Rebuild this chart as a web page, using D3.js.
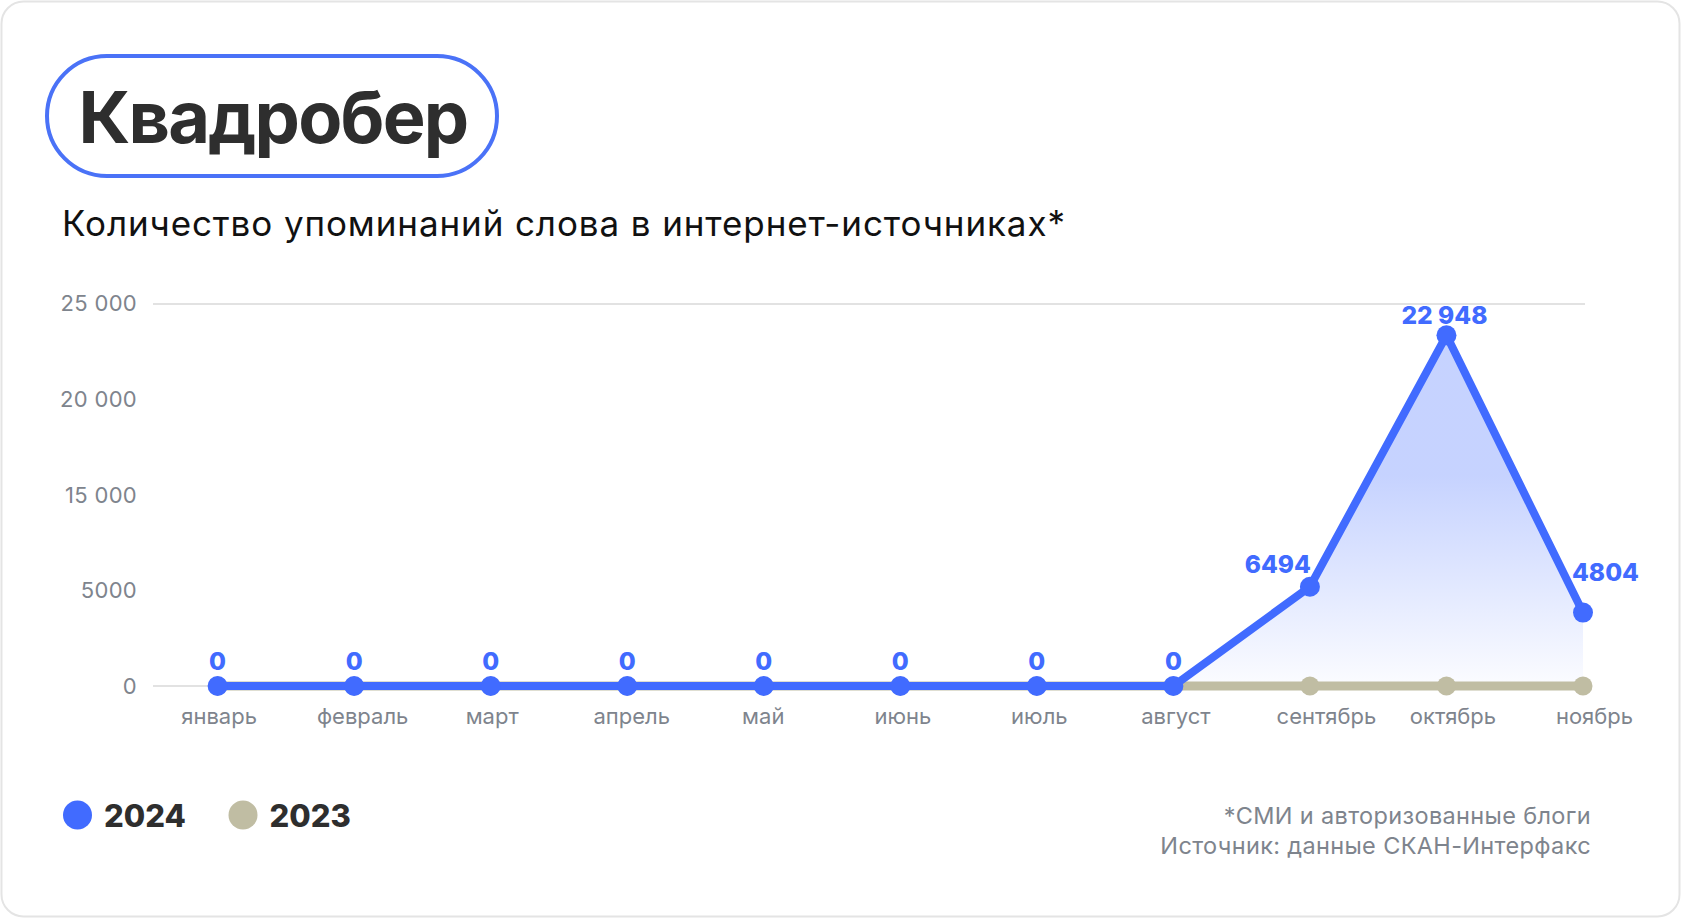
<!DOCTYPE html>
<html><head><meta charset="utf-8">
<script src="https://cdn.jsdelivr.net/npm/d3@7"></script>
<style>
html,body{margin:0;padding:0;background:#fff;}
svg{display:block;}
</style></head>
<body>
<svg id="c" width="1681" height="918"></svg>
<script>
const months = ["январь","февраль","март","апрель","май","июнь","июль","август","сентябрь","октябрь","ноябрь"];
const values2024 = [0,0,0,0,0,0,0,0,6494,22948,4804];
const values2023 = [0,0,0,0,0,0,0,0,0,0,0];
const labels2024 = ["0","0","0","0","0","0","0","0","6494","22 948","4804"];
const tickLabels = ["25 000","20 000","15 000","5000","0"];
const legendItems = ["2024","2023"];
const titleText = "Квадробер";
const subtitleText = "Количество упоминаний слова в интернет-источниках*";
const footnotes = ["*СМИ и авторизованные блоги","Источник: данные СКАН-Интерфакс"];

const BLUE = "#416bff", BEIGE = "#c0bda3", GREY = "#7e848d", DARK = "#2e2e2e";
const svg = d3.select("#c");

// card
svg.append("rect").attr("x",1.5).attr("y",1.5).attr("width",1678).attr("height",915)
  .attr("rx",22).attr("fill","#fff").attr("stroke","#e4e4e4").attr("stroke-width",2);

// title pill
svg.append("rect").attr("x",47).attr("y",56).attr("width",450).attr("height",120).attr("rx",60)
  .attr("fill","none").attr("stroke","#4a72f7").attr("stroke-width",4);
svg.append("text").attr("x",273).attr("y",143).attr("text-anchor","middle")
  .attr("font-family","Inter").attr("font-weight",700).attr("font-size",72)
  .attr("fill",DARK).attr("letter-spacing","-1.8").text(titleText);

svg.append("text").attr("x",62).attr("y",236)
  .attr("font-family","Inter").attr("font-size",35).attr("fill","#111")
  .attr("letter-spacing","0.9").text(subtitleText);

const x = d3.scalePoint().domain(months).range([217.6,1583]);
const y = d3.scaleLinear().domain([0,25000]).range([686,304]);
const yLab = d3.scalePoint().domain(tickLabels).range([303,686]);

// gridlines top & bottom
svg.selectAll("line.grid").data([25000,0]).join("line").attr("class","grid")
  .attr("x1",153).attr("x2",1585).attr("y1",d=>y(d)).attr("y2",d=>y(d))
  .attr("stroke","#d8d8d8").attr("stroke-width",1.5);

// y axis labels
const yAxis = svg.append("g").attr("transform","translate(137,0)")
  .call(d3.axisLeft(yLab).tickSize(0).tickPadding(0));
yAxis.select(".domain").remove();
yAxis.selectAll("text").attr("font-family","Inter").attr("font-size",22).attr("fill",GREY)
  .attr("dy","0.35em").attr("letter-spacing","0.3");

// x axis labels (slight horizontal shifts as in the source layout)
const monthShift = [1,8,1,4,-1,2,2,2,16,6,11];
const xAxis = svg.append("g").attr("transform","translate(0,716)")
  .call(d3.axisBottom(x).tickSize(0).tickPadding(0));
xAxis.select(".domain").remove();
xAxis.selectAll("text").attr("font-family","Inter").attr("font-size",22).attr("fill",GREY)
  .attr("dy","0.35em").attr("dx",(d,i)=>monthShift[i]);

// gradient
const defs = svg.append("defs");
const grad = defs.append("linearGradient").attr("id","g").attr("gradientUnits","userSpaceOnUse")
  .attr("x1",0).attr("x2",0).attr("y1",y(22948)).attr("y2",y(0));
grad.append("stop").attr("offset",0).attr("stop-color",BLUE).attr("stop-opacity",0.30);
grad.append("stop").attr("offset",0.4).attr("stop-color",BLUE).attr("stop-opacity",0.30);
grad.append("stop").attr("offset",1).attr("stop-color",BLUE).attr("stop-opacity",0.02);

const d24 = months.map((m,i)=>({m,v:values2024[i],l:labels2024[i]}));
const d23 = months.map((m,i)=>({m,v:values2023[i]}));

svg.append("path").datum(d24).attr("fill","url(#g)")
  .attr("d",d3.area().x(d=>x(d.m)).y0(y(0)).y1(d=>y(d.v)));

// 2023 line
svg.append("path").datum(d23).attr("fill","none").attr("stroke",BEIGE).attr("stroke-width",9)
  .attr("stroke-linecap","round").attr("d",d3.line().x(d=>x(d.m)).y(d=>y(d.v)));
svg.selectAll("circle.p23").data(d23).join("circle").attr("class","p23")
  .attr("cx",d=>x(d.m)).attr("cy",d=>y(d.v)).attr("r",9.5).attr("fill",BEIGE);

// 2024 line
svg.append("path").datum(d24).attr("fill","none").attr("stroke",BLUE).attr("stroke-width",8)
  .attr("stroke-linejoin","round").attr("stroke-linecap","round")
  .attr("d",d3.line().x(d=>x(d.m)).y(d=>y(d.v)));
svg.selectAll("circle.p24").data(d24).join("circle").attr("class","p24")
  .attr("cx",d=>x(d.m)).attr("cy",d=>y(d.v)).attr("r",10).attr("fill",BLUE);

// data labels
const lblOff = {"6494":{a:"end",dx:1,dy:-14},"22 948":{a:"middle",dx:-2,dy:-11},"4804":{a:"start",dx:-11,dy:-32}};
svg.selectAll("text.dl").data(d24).join("text").attr("class","dl")
  .attr("x",d=>x(d.m)+(lblOff[d.l]?lblOff[d.l].dx:0))
  .attr("y",d=>y(d.v)+(lblOff[d.l]?lblOff[d.l].dy:-16))
  .attr("text-anchor",d=>lblOff[d.l]?lblOff[d.l].a:"middle")
  .attr("font-family","Inter").attr("font-weight",800).attr("font-size",24.5)
  .attr("fill",BLUE).text(d=>d.l);

// legend
const lg = svg.selectAll("g.lg").data(legendItems).join("g").attr("class","lg")
  .attr("transform",(d,i)=>`translate(${77.5+i*165.5},815)`);
lg.append("circle").attr("r",14.5).attr("fill",(d,i)=>i===0?BLUE:BEIGE);
lg.append("text").attr("x",26.5).attr("y",11.5).attr("font-family","Inter").attr("font-weight",800)
  .attr("font-size",31).attr("fill",DARK).text(d=>d);

// footnotes
svg.selectAll("text.fn").data(footnotes).join("text").attr("class","fn")
  .attr("x",1591).attr("y",(d,i)=>824+i*30).attr("text-anchor","end")
  .attr("font-family","Inter").attr("font-size",23.5).attr("fill",GREY)
  .attr("letter-spacing","0.35").text(d=>d);
</script>
</body></html>
